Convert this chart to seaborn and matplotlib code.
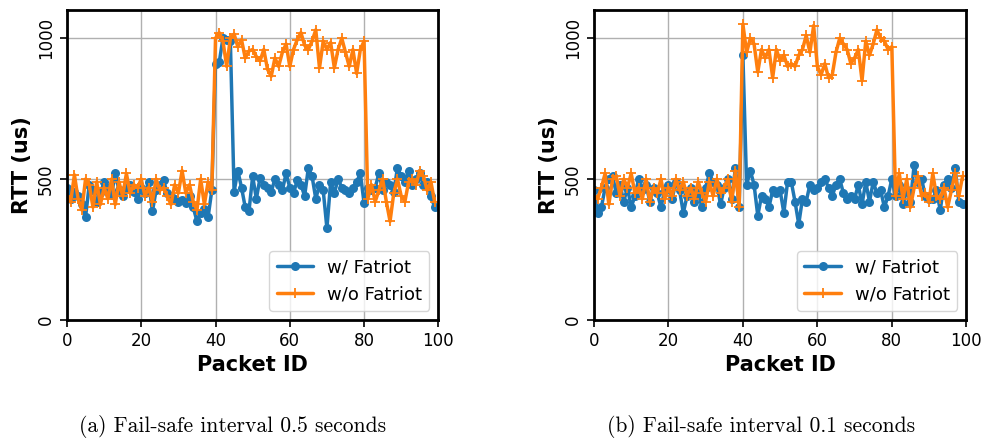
import numpy as np
import pandas as pd
import matplotlib
matplotlib.use("Agg")
import matplotlib.pyplot as plt
import seaborn as sns

packet_ids = list(range(100))

a_with = [470, 430, 455, 440, 410, 365, 480, 460, 420, 450,
          490, 470, 445, 520, 460, 440, 470, 480, 455, 430,
          470, 450, 490, 385, 460, 480, 495, 450, 440, 430,
          420, 425, 415, 440, 400, 350, 380, 395, 365, 460,
          910, 915, 1000, 995, 990, 455, 530, 470, 400, 385,
          510, 430, 505, 480, 470, 455, 500, 480, 460, 520,
          470, 450, 495, 480, 440, 540, 510, 430, 480, 460,
          325, 490, 450, 500, 470, 460, 450, 470, 490, 520,
          415, 470, 460, 470, 520, 460, 490, 480, 455, 540,
          510, 490, 530, 480, 500, 520, 480, 490, 440, 400]

a_without = [440, 420, 515, 430, 390, 500, 480, 400, 490, 410,
             470, 430, 500, 410, 490, 440, 520, 450, 480, 470,
             500, 440, 470, 420, 500, 460, 470, 440, 410, 480,
             450, 530, 450, 480, 420, 390, 500, 410, 490, 460,
             1000, 1020, 990, 900, 1000, 1015, 970, 995, 930, 955,
             960, 935, 920, 960, 890, 865, 930, 900, 950, 980,
             900, 960, 995, 1020, 975, 960, 990, 1030, 895, 990,
             960, 985, 895, 960, 1000, 950, 900, 960, 875, 960,
             990, 430, 480, 420, 460, 500, 420, 350, 450, 500,
             440, 420, 490, 500, 480, 530, 510, 460, 490, 420]

b_with = [460, 380, 400, 470, 500, 510, 450, 480, 420, 470,
          400, 440, 500, 460, 480, 420, 470, 450, 400, 460,
          480, 430, 490, 460, 380, 440, 470, 420, 450, 400,
          470, 520, 490, 480, 410, 470, 500, 430, 540, 400,
          940, 480, 530, 480, 370, 440, 430, 400, 460, 450,
          460, 380, 490, 490, 420, 340, 430, 420, 480, 460,
          470, 490, 500, 470, 440, 480, 500, 450, 430, 440,
          430, 480, 410, 490, 420, 490, 450, 460, 400, 440,
          500, 440, 480, 410, 460, 420, 550, 490, 500, 440,
          430, 430, 460, 390, 480, 500, 470, 540, 420, 410]

b_without = [440, 430, 470, 520, 410, 500, 510, 440, 500, 470,
             520, 450, 470, 430, 500, 420, 470, 450, 500, 430,
             470, 440, 500, 460, 490, 440, 470, 430, 490, 450,
             420, 490, 440, 500, 450, 470, 500, 420, 530, 400,
             1050, 950, 1000, 980, 880, 960, 930, 960, 860, 960,
             920, 940, 900, 910, 900, 940, 960, 1010, 950, 1045,
             900, 870, 910, 860, 870, 950, 1000, 980, 960, 910,
             930, 960, 850, 990, 940, 980, 1030, 1000, 990, 960,
             970, 440, 520, 430, 500, 400, 470, 510, 440, 450,
             420, 520, 440, 430, 470, 400, 460, 520, 440, 510]

captions = ["(a) Fail-safe interval 0.5 seconds", "(b) Fail-safe interval 0.1 seconds"]
series_labels = ["w/ Fatriot", "w/o Fatriot"]

sns.set_style("whitegrid")
plt.rcParams['font.family'] = ['DejaVu Sans']
plt.rcParams['text.color'] = 'black'
plt.rcParams['axes.labelcolor'] = 'black'
plt.rcParams['xtick.color'] = 'black'
plt.rcParams['ytick.color'] = 'black'

fig = plt.figure(figsize=(9.85, 4.4), dpi=100)
ax_a = fig.add_axes([0.068, 0.273, 0.377, 0.704])
ax_b = fig.add_axes([0.603, 0.273, 0.378, 0.704])

blue = "#1f77b4"
orange = "#ff7f0e"

for ax, w, wo, cap, cx in [(ax_a, a_with, a_without, captions[0], 233 / 985),
                           (ax_b, b_with, b_without, captions[1], 761 / 985)]:
    df = pd.DataFrame({"Packet ID": packet_ids, "with": w, "without": wo})
    sns.lineplot(data=df, x="Packet ID", y="with", ax=ax, color=blue,
                 marker="o", markersize=6.5, markeredgewidth=0, linewidth=2.5,
                 label=series_labels[0])
    sns.lineplot(data=df, x="Packet ID", y="without", ax=ax, color=orange,
                 marker="+", markersize=7, markeredgewidth=1.3,
                 markeredgecolor=orange, markerfacecolor=orange, linewidth=2.5,
                 label=series_labels[1])
    ax.set_xlim(0, 100)
    ax.set_ylim(0, 1100)
    ax.set_xticks([0, 20, 40, 60, 80, 100])
    ax.set_yticks([0, 500, 1000])
    ax.tick_params(axis='both', labelsize=12, length=5, width=1.2, color='black',
                   labelcolor='black', left=True, bottom=True)
    for lbl in ax.get_yticklabels():
        lbl.set_rotation(90)
        lbl.set_va('center')
    ax.set_xlabel("Packet ID", fontsize=15, fontweight='bold', color='black')
    ax.set_ylabel("RTT (us)", fontsize=15, fontweight='bold', color='black')
    ax.grid(True, color='#b0b0b0', linewidth=1)
    for sp in ax.spines.values():
        sp.set_color('black')
        sp.set_linewidth(2)
    leg = ax.legend(loc='lower right', fontsize=13, frameon=True)
    leg.get_frame().set_edgecolor('#cccccc')
    for t in leg.get_texts():
        t.set_color('black')
    fig.text(cx, 0.03, cap, ha='center', va='center',
             fontsize=15.5, family='cmr10', color='black')

fig.savefig("out.png", dpi=100)
